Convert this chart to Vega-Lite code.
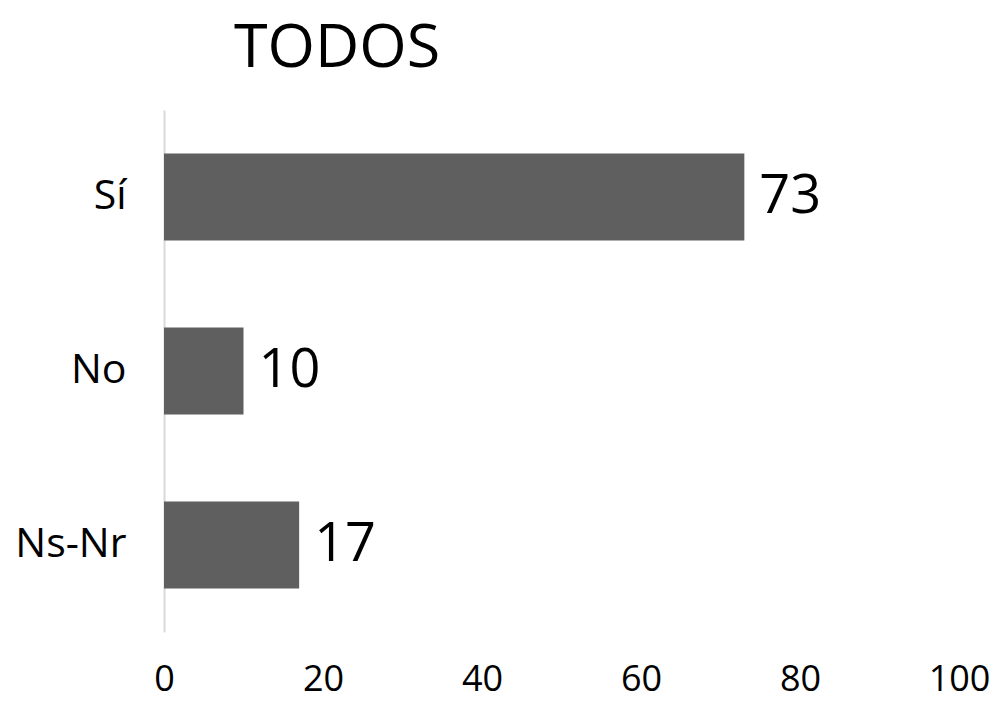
{
  "$schema": "https://vega.github.io/schema/vega-lite/v6.json",
  "width": 795,
  "height": 522,
  "autosize": {"type": "none"},
  "padding": {"left": 164, "top": 110, "right": 38, "bottom": 72},
  "background": "white",
  "config": {"view": {"stroke": null}, "font": "Open Sans"},
  "title": {"text": "TODOS", "anchor": "start", "frame": "group", "dx": 70, "fontSize": 61, "fontWeight": "normal", "font": "Open Sans", "color": "#000000", "offset": 30},
  "data": {"values": [
    {"cat": "Sí", "val": 73},
    {"cat": "No", "val": 10},
    {"cat": "Ns-Nr", "val": 17}
  ]},
  "encoding": {
    "y": {"field": "cat", "type": "nominal", "sort": ["Sí", "No", "Ns-Nr"],
      "scale": {"paddingInner": 0.5, "paddingOuter": 0.25},
      "axis": {"title": null, "ticks": false, "domain": true, "domainColor": "#d9d9d9", "domainWidth": 2, "labelFontSize": 41, "labelColor": "#000000", "labelPadding": 38, "labelFont": "Open Sans"}},
    "x": {"field": "val", "type": "quantitative", "scale": {"domain": [0, 100]},
      "axis": {"title": null, "values": [0, 20, 40, 60, 80, 100], "grid": false, "ticks": false, "domain": false, "labelFontSize": 36, "labelColor": "#000000", "labelPadding": 30, "labelFont": "Open Sans", "labelFlush": false}}
  },
  "layer": [
    {"mark": {"type": "bar", "color": "#5f5f5f"}},
    {"mark": {"type": "text", "align": "left", "baseline": "middle", "dx": 15, "fontSize": 54, "color": "#000000", "font": "Open Sans"},
     "encoding": {"text": {"field": "val", "type": "quantitative"}}}
  ]
}
